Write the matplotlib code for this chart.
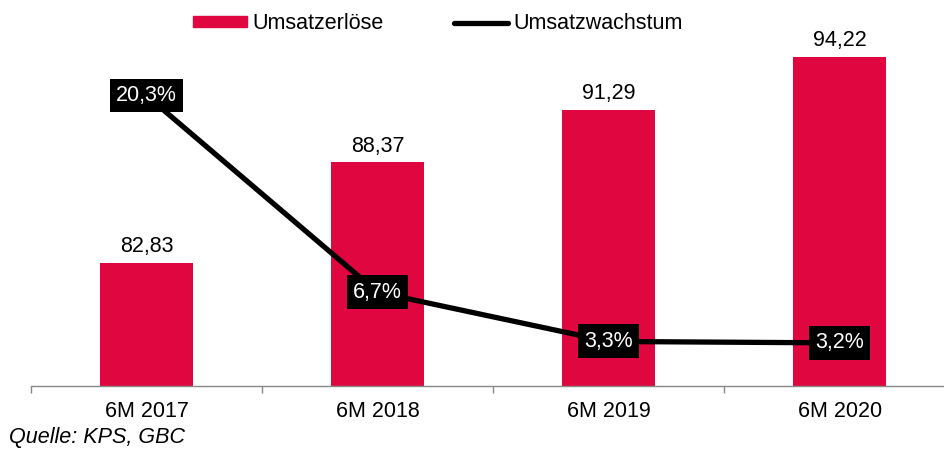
import matplotlib.pyplot as plt
from matplotlib.lines import Line2D
from matplotlib.patches import Patch

plt.rcParams["font.family"] = ["Liberation Sans", "DejaVu Sans"]

categories = ["6M 2017", "6M 2018", "6M 2019", "6M 2020"]
umsatz = [82.83, 88.37, 91.29, 94.22]
wachstum = [20.3, 6.7, 3.3, 3.2]

BAR_COLOR = "#E0063F"
FS = 15.5


def de(v, fmt):
    return fmt.format(v).replace(".", ",")


fig = plt.figure(figsize=(9.44, 4.49), dpi=100)
ax = fig.add_axes([0.0328, 0.1403, 0.979, 0.8152])
ax2 = ax.twinx()

x = list(range(len(categories)))
ax.bar(x, umsatz, width=0.4, color=BAR_COLOR, zorder=2)
for xi, v in zip(x, umsatz):
    ax.annotate(de(v, "{:.2f}"), (xi, v), xytext=(0, 4), textcoords="offset points",
                ha="center", va="bottom", fontsize=FS)

ax.set_xlim(-0.5, 3.5)
ax.set_ylim(76, 96.25)
ax.set_yticks([])
ax.set_xticks([i - 0.5 for i in range(4)], minor=False)
ax.set_xticklabels([])
ax.set_xticks(x, minor=True)
ax.set_xticklabels(categories, minor=True, fontsize=FS)
ax.tick_params(axis="x", which="major", length=5, color="#888888", width=1)
ax.tick_params(axis="x", which="minor", length=0, pad=11)
for s in ["top", "right", "left"]:
    ax.spines[s].set_visible(False)
ax.spines["bottom"].set_color("#888888")
ax.spines["bottom"].set_linewidth(1)

ax2.plot(x, wachstum, color="black", lw=3.8, zorder=3, solid_capstyle="round")
for xi, v in zip(x, wachstum):
    ax2.text(xi, v, de(v, "{:.1f}") + "%", ha="center", va="center", fontsize=FS,
             color="white", zorder=4,
             bbox=dict(boxstyle="square,pad=0.3", fc="black", ec="none"))
ax2.set_ylim(0.22, 25.52)
ax2.set_yticks([])
for s in ax2.spines.values():
    s.set_visible(False)

handles = [Patch(color=BAR_COLOR), Line2D([0], [0], color="black", lw=3.8, solid_capstyle="round")]
fig.legend(handles, ["Umsatzerlöse", "Umsatzwachstum"], loc="center",
           bbox_to_anchor=(0.464, 0.947), ncol=2, frameon=False, fontsize=FS,
           handlelength=2.5, handleheight=0.45, handletextpad=0.25, columnspacing=3.3,
           borderpad=0.2)

fig.text(0.01, 0.025, "Quelle: KPS, GBC", fontsize=FS, style="italic", ha="left", va="center")

fig.savefig("out.png", dpi=100)
